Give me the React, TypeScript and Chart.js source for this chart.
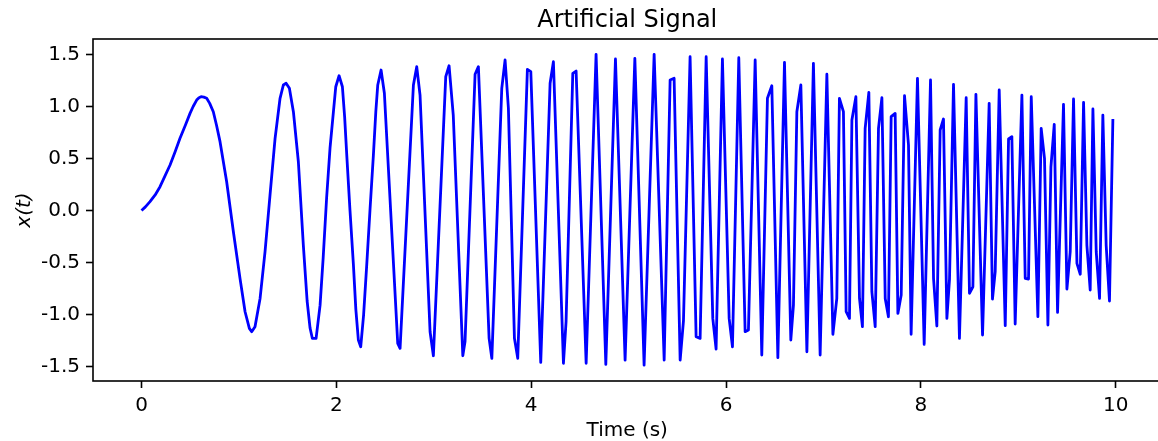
import React, { useEffect, useRef } from "react";
import { Chart, registerables } from "chart.js";

Chart.register(...registerables);

// Time samples (s) (vertices of the plotted line)
const timeValues = [
  0, 0.04, 0.087, 0.14, 0.19, 0.24, 0.293, 0.345, 0.395, 0.45,
  0.498, 0.53, 0.566, 0.59, 0.611, 0.64, 0.669, 0.7, 0.737, 0.77,
  0.806, 0.874, 0.943, 1.011, 1.063, 1.107, 1.131, 1.165, 1.217, 1.268,
  1.319, 1.371, 1.422, 1.456, 1.484, 1.518, 1.559, 1.61, 1.661, 1.7,
  1.73, 1.754, 1.792, 1.833, 1.865, 1.9, 1.935, 1.97, 1.994, 2.028,
  2.062, 2.085, 2.107, 2.14, 2.175, 2.2, 2.226, 2.25, 2.28, 2.312,
  2.345, 2.38, 2.405, 2.425,
  2.459, 2.493, 2.63, 2.654, 2.791,
  2.825, 2.859, 2.962, 2.996, 3.123, 3.157, 3.2, 3.298, 3.321, 3.424,
  3.458, 3.568, 3.596, 3.698, 3.732, 3.766, 3.828, 3.862, 3.961, 3.996,
  4.098, 4.194, 4.228, 4.331, 4.358, 4.427, 4.461, 4.564, 4.666, 4.766,
  4.865, 4.964, 5.064, 5.159, 5.262, 5.365, 5.426, 5.467, 5.529, 5.563,
  5.631, 5.693, 5.734, 5.796, 5.864, 5.898, 5.963, 6.032, 6.066, 6.131,
  6.196, 6.23, 6.299, 6.367, 6.425, 6.47, 6.532, 6.6, 6.665, 6.692,
  6.727, 6.768, 6.83, 6.897, 6.966, 7.035, 7.097, 7.137, 7.164, 7.205,
  7.233, 7.267, 7.292, 7.333, 7.37, 7.4, 7.428, 7.466, 7.497, 7.531,
  7.565, 7.6, 7.634, 7.667, 7.695, 7.736, 7.764, 7.798, 7.832, 7.873,
  7.9, 7.965, 8.034, 8.099, 8.13, 8.164, 8.198, 8.232, 8.267, 8.294,
  8.335, 8.396, 8.465, 8.499, 8.534, 8.565, 8.633, 8.701, 8.735, 8.763,
  8.804, 8.866, 8.9, 8.934, 8.968, 9.037, 9.071, 9.105, 9.133, 9.201,
  9.235, 9.269, 9.304, 9.335, 9.369, 9.403, 9.464, 9.499, 9.533, 9.567,
  9.602, 9.636, 9.67, 9.704, 9.738, 9.766, 9.8, 9.834, 9.868, 9.902,
  9.936, 9.971,
];

// Signal values x(t)
const signalValues = [
  0, 0.035, 0.085, 0.15, 0.229, 0.33, 0.438, 0.565, 0.694, 0.82,
  0.934, 1.0, 1.062, 1.085, 1.094, 1.09, 1.079, 1.03, 0.95, 0.82,
  0.662, 0.277, -0.204, -0.652, -0.973, -1.133, -1.165, -1.117, -0.845, -0.396,
  0.149, 0.694, 1.079, 1.207, 1.223, 1.175, 0.95, 0.469, -0.332, -0.87,
  -1.13, -1.23, -1.23, -0.91, -0.45, 0.12, 0.6, 0.95, 1.19, 1.296,
  1.19, 0.9, 0.53, 0.0, -0.52, -0.95, -1.245, -1.31, -1.0, -0.52,
  0.0, 0.53, 0.95, 1.207,
  1.351, 1.127, -1.277, -1.325, 1.207,
  1.383, 1.11, -1.165, -1.396, 1.287, 1.392, 0.918, -1.396, -1.26, 1.31,
  1.383, -1.229, -1.421, 1.175, 1.447, 0.983, -1.229, -1.421, 1.357, 1.335,
  -1.46, 1.223, 1.431, -1.469, -1.069, 1.319, 1.341, -1.469, 1.502, -1.479,
  1.457, -1.438, 1.463, -1.486, 1.502, -1.438, 1.255, 1.271, -1.438, -1.06,
  1.479, -1.213, -1.229, 1.479, -1.037, -1.332, 1.457, -1.037, -1.31, 1.469,
  -1.165, -1.149, 1.447, -1.389, 1.079, 1.2, -1.415, 1.425, -1.245, -0.909,
  0.95, 1.207, -1.358, 1.415, -1.389, 1.31, -1.19, -0.845, 1.079, 0.95,
  -0.973, -1.037, 0.87, 1.094, -0.845, -1.117, 0.79, 1.136, -0.78, -1.117,
  0.79, 1.085, -0.845, -1.021, 0.902, 0.934, -0.989, -0.813, 1.104, 0.63,
  -1.19, 1.271, -1.287, 1.255, -0.652, -1.11, 0.774, 0.88, -1.037, -0.66,
  1.213, -1.229, 1.085, -0.796, -0.733, 1.117, -1.197, 1.031, -0.851, -0.588,
  1.159, -1.107, 0.688, 0.71, -1.091, 1.11, -0.652, -0.659, 1.094, -1.021,
  0.79, 0.502, -1.101, 0.42, 0.829, -0.979, 1.021, -0.755, -0.396, 1.072,
  -0.508, -0.613, 1.04, -0.332, -0.764, 0.976, -0.396, -0.845, 0.918, -0.332,
  -0.87, 0.88,
];

const xTickValues = [0, 2, 4, 6, 8, 10];
const yTickValues = [-1.5, -1.0, -0.5, 0.0, 0.5, 1.0, 1.5];

const titleText = "Artificial Signal";
const xLabelText = "Time (s)";
const yLabelText = "x(t)";

const W = 1158;
const H = 441;
const CANVAS_W = 1176;
const AREA_LEFT = 93;
const AREA_RIGHT = 1161.5;
const AREA_TOP = 39;
const AREA_BOTTOM = 381;

const FONT = "'DejaVu Sans', 'Liberation Sans', sans-serif";

const framePlugin = {
  id: "axesFrame",
  afterDatasetsDraw(chart: any) {
    const { ctx, chartArea: a } = chart;
    ctx.save();
    ctx.strokeStyle = "#000000";
    ctx.lineWidth = 1.6;
    ctx.strokeRect(a.left, a.top, a.right - a.left, a.bottom - a.top);
    ctx.restore();
  },
};

const axesTitlePlugin = {
  id: "axesTitle",
  afterDraw(chart: any) {
    const { ctx, chartArea: a } = chart;
    ctx.save();
    ctx.fillStyle = "#000000";
    ctx.font = `normal 24px ${FONT}`;
    ctx.textAlign = "center";
    ctx.textBaseline = "middle";
    ctx.fillText(titleText, (a.left + a.right) / 2, 20.4);
    ctx.restore();
  },
};

export default function App() {
  const canvasRef = useRef<HTMLCanvasElement | null>(null);

  useEffect(() => {
    const canvas = canvasRef.current;
    if (!canvas) return;
    const points = timeValues.map((t, i) => ({ x: t, y: signalValues[i] }));

    const chart = new Chart(canvas, {
      type: "line",
      data: {
        datasets: [
          {
            data: points,
            borderColor: "#0000ff",
            borderWidth: 2.8,
            pointRadius: 0,
            tension: 0,
            fill: false,
            borderJoinStyle: "round",
          },
        ],
      },
      options: {
        animation: false,
        responsive: false,
        devicePixelRatio: 1,
        layout: {
          padding: { left: 0, right: CANVAS_W - AREA_RIGHT, top: AREA_TOP, bottom: 0 },
        },
        plugins: {
          legend: { display: false },
          tooltip: { enabled: false },
          title: { display: false },
        },
        scales: {
          x: {
            type: "linear",
            position: "bottom",
            min: -0.498,
            max: 10.47,
            afterBuildTicks: (scale: any) => {
              scale.ticks = xTickValues.map((v) => ({ value: v }));
            },
            afterFit: (scale: any) => {
              scale.height = H - AREA_BOTTOM;
            },
            ticks: {
              autoSkip: false,
              maxRotation: 0,
              color: "#000000",
              padding: 6,
              font: { family: FONT, size: 20 },
              callback: (v: any) => String(v),
            },
            grid: {
              display: true,
              drawOnChartArea: false,
              drawTicks: true,
              tickLength: 7,
              tickWidth: 1.6,
              tickColor: "#000000",
            },
            border: { display: false },
            title: {
              display: true,
              text: xLabelText,
              color: "#000000",
              font: { family: FONT, size: 20, lineHeight: 1 },
              padding: { top: 0, bottom: 0.5 },
            },
          },
          y: {
            type: "linear",
            min: -1.639,
            max: 1.649,
            afterBuildTicks: (scale: any) => {
              scale.ticks = yTickValues.map((v) => ({ value: v }));
            },
            afterFit: (scale: any) => {
              scale.width = AREA_LEFT;
            },
            ticks: {
              autoSkip: false,
              color: "#000000",
              padding: 6,
              font: { family: FONT, size: 20 },
              callback: (v: any) => Number(v).toFixed(1),
            },
            grid: {
              display: true,
              drawOnChartArea: false,
              drawTicks: true,
              tickLength: 7,
              tickWidth: 1.6,
              tickColor: "#000000",
            },
            border: { display: false },
            title: {
              display: true,
              text: yLabelText,
              color: "#000000",
              font: { family: FONT, size: 20, style: "italic", lineHeight: 1 },
              padding: { top: 14.5, bottom: 0 },
            },
          },
        },
      },
      plugins: [framePlugin, axesTitlePlugin],
    } as any);

    return () => chart.destroy();
  }, []);

  return (
    <div
      style={{
        position: "fixed",
        left: 0,
        top: 0,
        width: W,
        height: H,
        overflow: "hidden",
        background: "#ffffff",
      }}
    >
      <canvas
        ref={canvasRef}
        width={CANVAS_W}
        height={H}
        style={{ width: CANVAS_W, height: H, display: "block" }}
      />
    </div>
  );
}
